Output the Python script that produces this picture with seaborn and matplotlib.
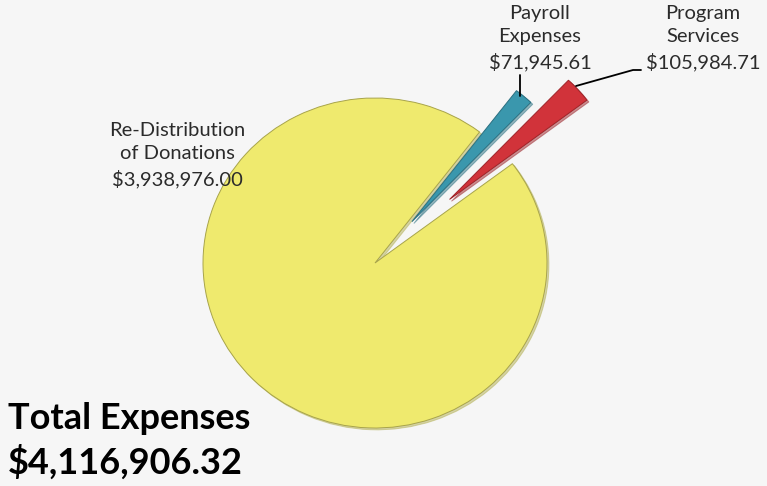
import seaborn as sns
import matplotlib.pyplot as plt

# expense categories (counter-clockwise from the start angle)
categories = ["Program\nServices", "Payroll\nExpenses", "Re-Distribution\nof Donations"]
amounts = [105984.71, 71945.61, 3938976.00]
amount_labels = ["$105,984.71", "$71,945.61", "$3,938,976.00"]
total_label = "$4,116,906.32"

sns.set_theme(style="white")
plt.rcParams['font.family'] = ['Lato', 'DejaVu Sans']

colors = ["#d1333a", "#3a97ad", "#efea6e"]
edges = ["#9e2328", "#2a6f80", "#a8a44a"]

fig = plt.figure(figsize=(7.67, 4.86), dpi=100)
fig.patch.set_facecolor("#f6f6f6")
ax = fig.add_axes([0, 0, 1, 1])
ax.set_facecolor("#f6f6f6")

# pixel -> data helper (pie centre at 375,263 px, slightly wider than tall)
RX, RY = 172.0, 165.0
def px(x, y):
    return ((x - 375) / RX, (263 - y) / RY)

wedges, _ = ax.pie(amounts, colors=colors, startangle=37, counterclock=True,
                   explode=[0.58, 0.33, 0.0], radius=1.0,
                   wedgeprops=dict(linewidth=0.7),
                   shadow=dict(ox=0.008, oy=-0.008, shade=0.25))
for w, ec in zip(wedges, edges):
    w.set_edgecolor(ec)

ax.set_xlim(px(0, 0)[0], px(767, 0)[0])
ax.set_ylim(px(0, 486)[1], px(0, 0)[1])
ax.set_aspect("auto")
ax.axis("off")

txt = dict(ha="center", va="center", fontsize=14.5, color="#2b2b2b", linespacing=1.45)

# slice labels
ax.text(*px(177, 155), categories[2] + "\n" + amount_labels[2], **txt)
ax.text(*px(540, 38), categories[1] + "\n" + amount_labels[1], **txt)
ax.text(*px(703, 38), categories[0] + "\n" + amount_labels[0], **txt)

# leader lines
ax.plot(*zip(px(520, 75), px(520, 96)), color="black", lw=1.3)
ax.plot(*zip(px(576, 86), px(633, 70), px(641, 70)), color="black", lw=1.3)

# total
ax.text(*px(8, 418), "Total Expenses", ha="left", va="center",
        fontsize=26, fontweight="bold", color="black")
ax.text(*px(8, 462), total_label, ha="left", va="center",
        fontsize=26, fontweight="bold", color="black")

fig.savefig("out.png", dpi=100, facecolor=fig.get_facecolor())
